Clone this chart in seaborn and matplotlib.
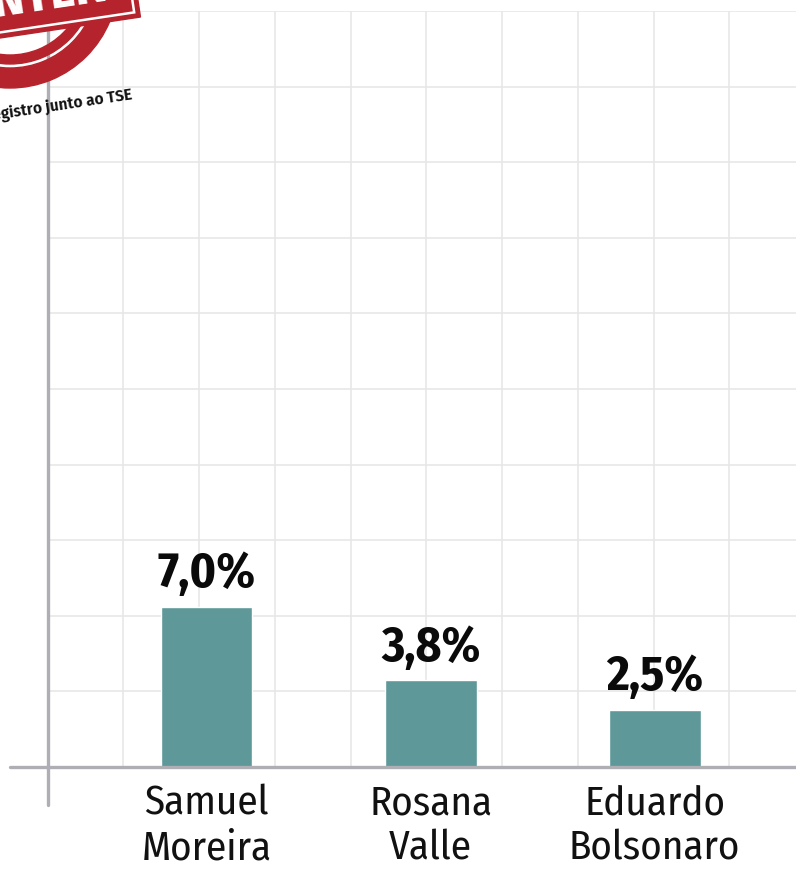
import numpy as np
import pandas as pd
import matplotlib
matplotlib.use("Agg")
import matplotlib.pyplot as plt
import seaborn as sns
from matplotlib.patches import Rectangle, Wedge
from matplotlib.transforms import Affine2D

# Data
candidates = ["Samuel\nMoreira", "Rosana\nValle", "Eduardo\nBolsonaro"]
votes = [7.0, 3.8, 2.5]
vote_labels = ["7,0%", "3,8%", "2,5%"]

df = pd.DataFrame({"candidato": candidates, "votos": votes})

sns.set_style("white")
plt.rcParams["font.family"] = ["Fira Sans Condensed", "DejaVu Sans"]
plt.rcParams["font.stretch"] = "condensed"

fig = plt.figure(figsize=(7.96, 8.69), dpi=100)
ax = fig.add_axes([0.0599, 0.1174, 0.9401, 0.8700])

bar_color = "#5e9898"
sns.barplot(data=df, x="candidato", y="votos", color=bar_color, width=0.41,
            saturation=1, ax=ax, zorder=3)

# axis limits / grid
x_left, x_right = -0.709, 2.631
ax.set_xlim(x_left, x_right)
ax.set_ylim(0, 33)
grid_step_x = 0.338
ax.set_xticks(x_left + grid_step_x * np.arange(1, 10), minor=True)
ax.set_yticks(np.arange(0, 33.1, 3.3))
ax.set_yticklabels([])
ax.grid(False)
ax.grid(which="minor", axis="x", color="#e6e6e6", lw=1.1)
ax.grid(which="major", axis="y", color="#e6e6e6", lw=1.1)
ax.set_axisbelow(True)
for s in ax.spines.values():
    s.set_visible(False)
ax.tick_params(axis="both", which="both", length=0)
ax.tick_params(axis="x", pad=12, labelsize=29.5, labelcolor="#111111")
for t in ax.get_xticklabels():
    t.set_linespacing(1.2)
ax.set_xlabel("")
ax.set_ylabel("")

# axis lines that stick out past each other
ax.axhline(0, xmin=-0.0504, xmax=1, color="#aeaeb4", lw=2.4, clip_on=False, zorder=4)
ax.axvline(x_left, ymin=-0.0503, ymax=1.02, color="#aeaeb4", lw=2.4, clip_on=False, zorder=4)

ax.bar_label(ax.containers[0], labels=vote_labels, padding=6, fontsize=35.5,
             fontweight="bold", color="#0a0a0a")

# stamp in the top-left corner (drawn in inches from bottom-left)
tr = fig.dpi_scale_trans
red = "#b5242c"
fig.patches.append(Wedge((0.10, 8.89), 1.08, 0, 360, width=0.20, color=red, transform=tr))
fig.patches.append(Wedge((0.10, 8.89), 0.84, 0, 360, width=0.09, color=red, transform=tr))
rot = Affine2D().rotate_deg_around(0, 8.31, 8.5) + tr
banner = Rectangle((-0.6, 8.31), 2.02, 0.7, color=red, transform=rot)
fig.patches.append(banner)
fig.patches.append(Rectangle((-0.6, 8.365), 1.965, 0.7, fill=False, ec="white", lw=1.8,
                             transform=rot))
stamp_txt = fig.text(0.47, 8.53, "INTER", color="white", fontsize=38, fontweight="bold",
                     ha="center", va="baseline", rotation=8.5, rotation_mode="anchor",
                     transform=rot)
stamp_txt.set_clip_path(banner)
fig.text(1.33, 7.70, "Sem registro junto ao TSE", fontsize=12.3, fontweight="semibold",
         color="#111111", ha="right", va="baseline", rotation=8.5,
         rotation_mode="anchor", transform=tr)

plt.savefig("out.png", dpi=100)
